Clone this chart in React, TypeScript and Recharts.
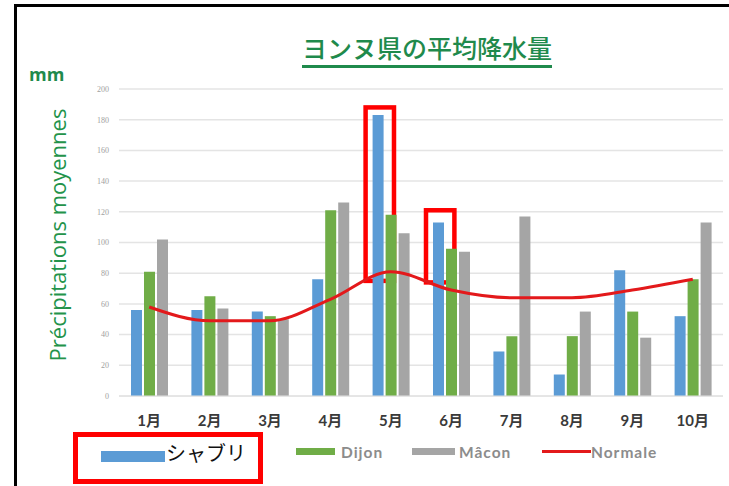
import React from "react";
import {
  ComposedChart,
  Bar,
  Line,
  XAxis,
  YAxis,
  CartesianGrid,
  ReferenceArea,
} from "recharts";

const months = ["1月", "2月", "3月", "4月", "5月", "6月", "7月", "8月", "9月", "10月"];
const chablis = [56, 56, 55, 76, 183, 113, 29, 14, 82, 52];
const dijon = [81, 65, 52, 121, 118, 96, 39, 39, 55, 76];
const macon = [102, 57, 50, 126, 106, 94, 117, 55, 38, 113];
const normale = [58, 49, 49, 63, 81, 69, 64, 64, 69, 76];
const yTicks = [0, 20, 40, 60, 80, 100, 120, 140, 160, 180, 200];

const seriesNames = { chablis: "シャブリ", dijon: "Dijon", macon: "Mâcon", normale: "Normale" };
const highlights = [
  { month: "5月", from: 75, to: 188 },
  { month: "6月", from: 74, to: 121 },
];

const data = months.map((m, i) => ({
  month: m,
  chablis: chablis[i],
  dijon: dijon[i],
  macon: macon[i],
  normale: normale[i],
}));

const BLUE = "#5b9bd5";
const GREEN = "#70ad47";
const GRAY = "#a5a5a5";
const RED = "#e3191b";
const TITLE_GREEN = "#1f8a4c";

const BoxShape = (props: any) => {
  const { x, y, width, height } = props;
  return (
    <rect
      x={x + 5}
      y={y}
      width={width * 0.47}
      height={height}
      fill="none"
      stroke="#ff0000"
      strokeWidth={4.5}
    />
  );
};

const legendText: React.CSSProperties = {
  position: "absolute",
  fontFamily: "Lato, 'Open Sans', sans-serif",
  fontWeight: 700,
  fontSize: 15.5,
  letterSpacing: 1,
  color: "#8c8c8c",
  lineHeight: "18px",
};

export default function App() {
  return (
    <div
      style={{
        position: "absolute",
        left: 0,
        top: 0,
        width: 729,
        height: 486,
        overflow: "hidden",
        background: "#fff",
      }}
    >
      {/* frame */}
      <div
        style={{
          position: "absolute",
          left: 14,
          top: 4,
          width: 740,
          height: 500,
          border: "3px solid #000",
        }}
      />
      {/* title */}
      <div
        style={{
          position: "absolute",
          left: 227,
          width: 400,
          top: 33,
          textAlign: "center",
          fontFamily: "'Noto Sans CJK JP', sans-serif",
          fontSize: 25,
          lineHeight: "29px",
          color: TITLE_GREEN,
          fontWeight: 500,
        }}
      >
        <span style={{ borderBottom: `3px solid ${TITLE_GREEN}`, paddingBottom: 0 }}>
          ヨンヌ県の平均降水量
        </span>
      </div>
      {/* mm */}
      <div
        style={{
          position: "absolute",
          left: 29,
          top: 62,
          fontFamily: "'Open Sans', sans-serif",
          fontWeight: 700,
          fontSize: 18,
          color: TITLE_GREEN,
        }}
      >
        mm
      </div>
      {/* y label */}
      <div
        style={{
          position: "absolute",
          left: 57,
          top: 235,
          transform: "translate(-50%, -50%) rotate(-90deg)",
          whiteSpace: "nowrap",
          fontFamily: "'Open Sans', sans-serif",
          fontSize: 22,
          fontWeight: 500,
          color: "#23934a",
        }}
      >
        Précipitations moyennes
      </div>

      <div style={{ position: "absolute", left: 0, top: 0 }}>
        <ComposedChart
          width={729}
          height={486}
          data={data}
          margin={{ top: 89, left: 99, right: 6, bottom: 60 }}
          barGap={2}
          barSize={11}
        >
          <CartesianGrid vertical={false} stroke="#e4e4e4" strokeWidth={1.5} />
          <XAxis
            dataKey="month"
            axisLine={{ stroke: "#e0e0e0" }}
            tickLine={false}
            tickMargin={13}
            height={30}
            tick={{
              fill: "#3a3a3a",
              fontSize: 15,
              fontWeight: 700,
              fontFamily: "Lato, 'Noto Sans CJK JP', sans-serif",
            }}
            interval={0}
          />
          <YAxis
            width={20}
            domain={[0, 200]}
            ticks={yTicks}
            axisLine={false}
            tickLine={false}
            tickMargin={4}
            tick={{ fill: "#a0a0a0", fontSize: 8, fontFamily: "'Liberation Serif', serif" }}
          />
          <Bar dataKey="chablis" name={seriesNames.chablis} fill={BLUE} isAnimationActive={false} />
          <Bar dataKey="dijon" name={seriesNames.dijon} fill={GREEN} isAnimationActive={false} />
          <Bar dataKey="macon" name={seriesNames.macon} fill={GRAY} isAnimationActive={false} />
          <Line
            dataKey="normale"
            name={seriesNames.normale}
            type="monotone"
            stroke={RED}
            strokeWidth={3}
            dot={false}
            isAnimationActive={false}
          />
          {highlights.map((h) => (
            <ReferenceArea
              key={h.month}
              x1={h.month}
              x2={h.month}
              y1={h.from}
              y2={h.to}
              shape={BoxShape}
              ifOverflow="visible"
            />
          ))}
        </ComposedChart>
      </div>

      {/* legend */}
      <div
        style={{
          position: "absolute",
          left: 73,
          top: 432,
          width: 180,
          height: 42,
          border: "5px solid #ff0000",
        }}
      />
      <div style={{ position: "absolute", left: 101, top: 451, width: 64, height: 11, background: BLUE }} />
      <div
        style={{
          position: "absolute",
          left: 166,
          top: 440,
          fontFamily: "'Noto Sans CJK JP', sans-serif",
          fontSize: 20,
          lineHeight: "26px",
          color: "#111",
        }}
      >
        {seriesNames.chablis}
      </div>
      <div style={{ position: "absolute", left: 296, top: 448, width: 39, height: 7, background: GREEN }} />
      <div style={{ ...legendText, left: 341, top: 443 }}>{seriesNames.dijon}</div>
      <div style={{ position: "absolute", left: 412, top: 448, width: 43, height: 7, background: GRAY }} />
      <div style={{ ...legendText, left: 459, top: 443 }}>{seriesNames.macon}</div>
      <div style={{ position: "absolute", left: 542, top: 450, width: 49, height: 3, background: RED }} />
      <div style={{ ...legendText, left: 591, top: 443 }}>{seriesNames.normale}</div>
    </div>
  );
}
